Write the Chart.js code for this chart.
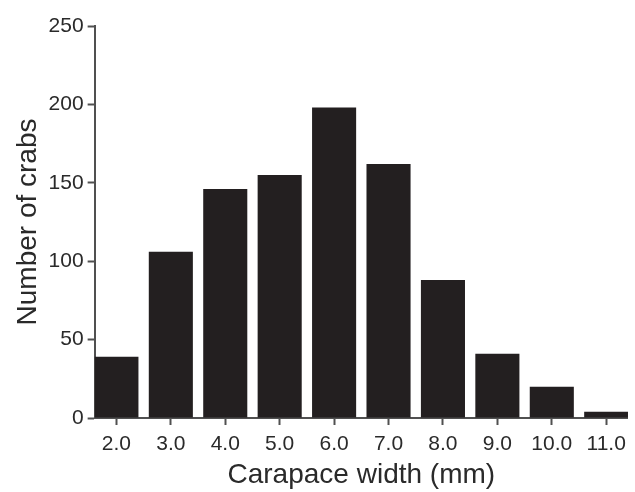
<!DOCTYPE html>
<html>
<head>
<meta charset="utf-8">
<script src="https://cdn.jsdelivr.net/npm/chart.js@4/dist/chart.umd.min.js"></script>
<style>
  html, body { margin: 0; padding: 0; background: #fff; overflow: hidden; }
  #wrap { width: 635px; height: 492px; }
</style>
</head>
<body>
<div id="wrap"><canvas id="histChart"></canvas></div>
<script>
// carapace width classes (mm) and crab counts
const widths = [2, 3, 4, 5, 6, 7, 8, 9, 10, 11];
const crabCounts = [39, 106, 146, 155, 198, 162, 88, 41, 20, 4];
const yTicks = [0, 50, 100, 150, 200, 250];

const ink = '#231f20';
const axisGrey = '#505050';
const textColor = '#2a2a2a';
const fontFamily = "'Liberation Sans', 'DejaVu Sans', sans-serif";

const points = widths.map((w, i) => ({ x: w, y: crabCounts[i] }));

new Chart(document.getElementById('histChart'), {
    type: 'bar',
    data: {
        datasets: [{
            data: points,
            backgroundColor: ink,
            borderWidth: 0,
            barPercentage: 0.81,
            categoryPercentage: 1.0
        }]
    },
    options: {
        responsive: true,
        maintainAspectRatio: false,
        animation: false,
        layout: { padding: { top: 26, right: 3, left: 3, bottom: 0 } },
        plugins: {
            legend: { display: false },
            tooltip: { enabled: false }
        },
        scales: {
            x: {
                type: 'linear',
                min: 1.6,
                max: 11.4,
                offset: false,
                afterBuildTicks: scale => {
                    scale.ticks = widths.map(w => ({ value: w }));
                },
                ticks: {
                    color: textColor,
                    font: { family: fontFamily, size: 21, lineHeight: 1 },
                    padding: 9,
                    maxRotation: 0,
                    autoSkip: false,
                    callback: v => v.toFixed(1)
                },
                grid: {
                    offset: false,
                    drawOnChartArea: false,
                    drawTicks: true,
                    tickLength: 7,
                    tickColor: axisGrey,
                    tickWidth: 2
                },
                border: { color: axisGrey, width: 2 },
                title: {
                    display: true,
                    text: 'Carapace width (mm)',
                    color: textColor,
                    font: { family: fontFamily, size: 28, lineHeight: 1 },
                    padding: { top: -3, bottom: 3 }
                }
            },
            y: {
                min: 0,
                max: 250,
                afterBuildTicks: scale => {
                    scale.ticks = yTicks.map(v => ({ value: v }));
                },
                ticks: {
                    color: textColor,
                    font: { family: fontFamily, size: 21 },
                    padding: 4
                },
                grid: {
                    drawOnChartArea: false,
                    drawTicks: true,
                    tickLength: 7,
                    tickColor: axisGrey,
                    tickWidth: 2
                },
                border: { color: axisGrey, width: 2 },
                title: {
                    display: true,
                    text: 'Number of crabs',
                    color: textColor,
                    font: { family: fontFamily, size: 28 },
                    padding: { top: 8, bottom: 0 }
                }
            }
        }
    }
});
</script>
</body>
</html>
